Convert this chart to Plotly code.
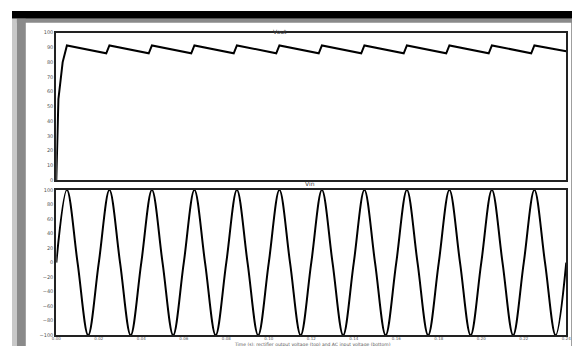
import plotly.graph_objects as go
from plotly.subplots import make_subplots

# ---- data ----
top_title = "Vout"
bottom_title = "Vin"
x_label = "Time (s): rectifier output voltage (top) and AC input voltage (bottom)"

# top panel: capacitor-filtered rectifier output (sawtooth ripple)
out_time = [0.000, 0.001, 0.003, 0.005,
            0.0235, 0.025, 0.0435, 0.045, 0.0635, 0.065, 0.0835, 0.085,
            0.1035, 0.105, 0.1235, 0.125, 0.1435, 0.145, 0.1635, 0.165,
            0.1835, 0.185, 0.2035, 0.205, 0.2235, 0.225, 0.240]
out_vals = [0, 55, 80, 91.3,
            86, 91.3, 86, 91.3, 86, 91.3, 86, 91.3,
            86, 91.3, 86, 91.3, 86, 91.3, 86, 91.3,
            86, 91.3, 86, 91.3, 86, 91.3, 87.3]

# bottom panel: AC input (peaks, zero crossings, troughs)
in_time = [0.000, 0.005, 0.010, 0.015, 0.020, 0.025, 0.030, 0.035, 0.040,
           0.045, 0.050, 0.055, 0.060, 0.065, 0.070, 0.075, 0.080,
           0.085, 0.090, 0.095, 0.100, 0.105, 0.110, 0.115, 0.120,
           0.125, 0.130, 0.135, 0.140, 0.145, 0.150, 0.155, 0.160,
           0.165, 0.170, 0.175, 0.180, 0.185, 0.190, 0.195, 0.200,
           0.205, 0.210, 0.215, 0.220, 0.225, 0.230, 0.235, 0.240]
in_vals = [0, 100, 0, -100, 0, 100, 0, -100, 0,
           100, 0, -100, 0, 100, 0, -100, 0,
           100, 0, -100, 0, 100, 0, -100, 0,
           100, 0, -100, 0, 100, 0, -100, 0,
           100, 0, -100, 0, 100, 0, -100, 0,
           100, 0, -100, 0, 100, 0, -100, 0]

x_ticks = [0.00, 0.02, 0.04, 0.06, 0.08, 0.10, 0.12, 0.14, 0.16, 0.18, 0.20, 0.22, 0.24]
top_ticks = [0, 10, 20, 30, 40, 50, 60, 70, 80, 90, 100]
bottom_ticks = [-100, -80, -60, -40, -20, 0, 20, 40, 60, 80, 100]

W, H = 580, 346
fig = make_subplots(rows=2, cols=1)

fig.add_trace(go.Scatter(x=out_time, y=out_vals, mode="lines",
                         line=dict(color="black", width=2)), row=1, col=1)
fig.add_trace(go.Scatter(x=in_time, y=in_vals, mode="lines",
                         line=dict(color="black", width=2, shape="spline", smoothing=1.0)),
              row=2, col=1)

xdom = [45 / W, 563 / W]
axis_common = dict(showgrid=False, zeroline=False, showline=True, mirror=True,
                   linecolor="#222", linewidth=2, ticks="")

fig.update_xaxes(domain=xdom, range=[0, 0.24], tickvals=x_ticks,
                 showticklabels=False, row=1, col=1, **axis_common)
fig.update_xaxes(domain=xdom, range=[0, 0.24], tickvals=x_ticks,
                 ticktext=[f"{v:.2f}" for v in x_ticks], ticklabelstandoff=-2,
                 tickfont=dict(size=4, color="#555", family="DejaVu Sans"),
                 showticklabels=True, row=2, col=1, **axis_common)
fig.update_yaxes(domain=[1 - 172 / H, 1 - 22 / H], range=[0, 100], tickvals=top_ticks,
                 tickfont=dict(size=5, color="#555", family="DejaVu Sans"),
                 row=1, col=1, **axis_common)
fig.update_yaxes(domain=[1 - 330 / H, 1 - 182 / H], range=[-100, 100], tickvals=bottom_ticks,
                 tickfont=dict(size=5, color="#555", family="DejaVu Sans"),
                 row=2, col=1, **axis_common)

shapes = [
    # window frame
    dict(type="rect", xref="paper", yref="paper", x0=0, x1=1, y0=1 - 8 / H, y1=1,
         fillcolor="black", line_width=0, layer="below"),
    dict(type="rect", xref="paper", yref="paper", x0=0, x1=1, y0=1 - 12 / H, y1=1 - 8 / H,
         fillcolor="#8a8a8a", line_width=0, layer="below"),
    dict(type="rect", xref="paper", yref="paper", x0=0, x1=5 / W, y0=0, y1=1 - 8 / H,
         fillcolor="#c8c8c8", line_width=0, layer="below"),
    dict(type="rect", xref="paper", yref="paper", x0=5 / W, x1=14 / W, y0=0, y1=1 - 8 / H,
         fillcolor="#8a8a8a", line_width=0, layer="below"),
    dict(type="rect", xref="paper", yref="paper", x0=568 / W, x1=1, y0=0, y1=1 - 8 / H,
         fillcolor="#8a8a8a", line_width=0, layer="below"),
]

annotations = [
    dict(text=top_title, x=272 / W, y=1 - 15 / H, xref="paper", yref="paper",
         showarrow=False, font=dict(size=6, color="#444", family="DejaVu Sans")),
    dict(text=bottom_title, x=303 / W, y=1 - 176 / H, xref="paper", yref="paper",
         showarrow=False, font=dict(size=6, color="#444", family="DejaVu Sans")),
    dict(text=x_label, x=305 / W, y=1 - 339.5 / H, yanchor="middle", xref="paper", yref="paper",
         showarrow=False, borderpad=0,
         font=dict(size=4.5, color="#555", family="DejaVu Sans")),
]

fig.update_layout(width=W, height=H, margin=dict(l=0, r=0, t=0, b=0),
                  paper_bgcolor="white", plot_bgcolor="white", showlegend=False,
                  shapes=shapes, annotations=annotations)

fig.write_html("out.html")
